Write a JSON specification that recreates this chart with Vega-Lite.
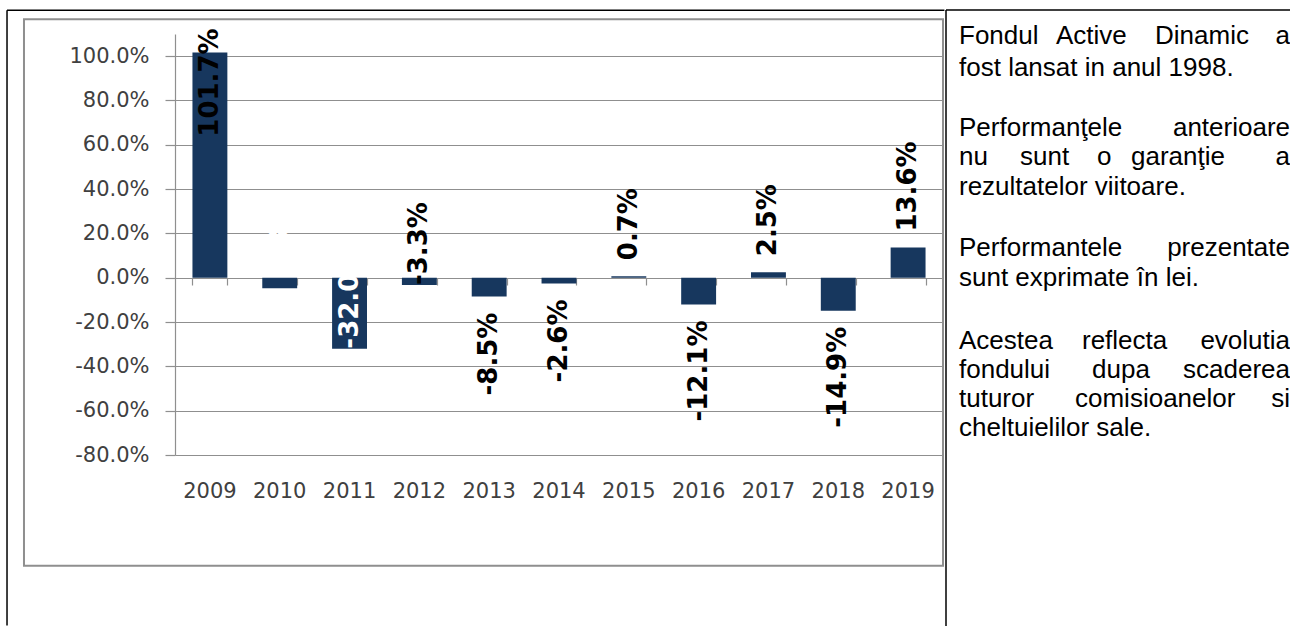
{
  "$schema": "https://vega.github.io/schema/vega-lite/v6.json",
  "background": "white",
  "padding": {"left": 6, "top": 9, "right": 0, "bottom": 0},
  "spacing": -1,
  "config": {
    "locale": {"number": {"decimal": ".", "thousands": ",", "grouping": [3], "currency": ["$", ""], "minus": "-"}},
    "view": {"stroke": null},
    "axis": {
      "labelFont": "DejaVu Sans",
      "labelFontSize": 21,
      "labelColor": "#404040",
      "domainColor": "#8f8f8f",
      "tickColor": "#8f8f8f",
      "gridColor": "#8f8f8f",
      "domainWidth": 1.2,
      "tickWidth": 1.2,
      "gridWidth": 1.2
    }
  },
  "datasets": {
    "perf": [
      {"year": "2009", "value": 1.017},
      {"year": "2010", "value": -0.048},
      {"year": "2011", "value": -0.32},
      {"year": "2012", "value": -0.033},
      {"year": "2013", "value": -0.085},
      {"year": "2014", "value": -0.026},
      {"year": "2015", "value": 0.007},
      {"year": "2016", "value": -0.121},
      {"year": "2017", "value": 0.025},
      {"year": "2018", "value": -0.149},
      {"year": "2019", "value": 0.136}
    ],
    "frame": [
      {"kind": "table", "x1": 2006.094, "x2": 2019.52, "y1": 1.2075, "y2": 1.2075},
      {"kind": "table", "x1": 2006.094, "x2": 2006.094, "y1": 1.2075, "y2": -1.57},
      {"kind": "area", "x1": 2006.337, "x2": 2019.5, "y1": 1.167, "y2": -1.3}
    ],
    "words": [
      {"t": "Fondul", "side": "left", "px": 13, "py": 10},
      {"t": "Active", "side": "left", "px": 110, "py": 10},
      {"t": "Dinamic", "side": "left", "px": 209, "py": 10},
      {"t": "a", "side": "right", "px": 344, "py": 10},
      {"t": "fost lansat in anul 1998.", "side": "left", "px": 13, "py": 42},
      {"t": "Performanţele", "side": "left", "px": 13, "py": 102},
      {"t": "anterioare", "side": "right", "px": 344, "py": 102},
      {"t": "nu", "side": "left", "px": 13, "py": 131},
      {"t": "sunt", "side": "left", "px": 74, "py": 131},
      {"t": "o", "side": "left", "px": 151, "py": 131},
      {"t": "garanţie", "side": "left", "px": 185, "py": 131},
      {"t": "a", "side": "right", "px": 344, "py": 131},
      {"t": "rezultatelor viitoare.", "side": "left", "px": 13, "py": 161},
      {"t": "Performantele", "side": "left", "px": 13, "py": 222},
      {"t": "prezentate", "side": "right", "px": 344, "py": 222},
      {"t": "sunt exprimate în lei.", "side": "left", "px": 13, "py": 252},
      {"t": "Acestea", "side": "left", "px": 13, "py": 315},
      {"t": "reflecta", "side": "left", "px": 136, "py": 315},
      {"t": "evolutia", "side": "right", "px": 344, "py": 315},
      {"t": "fondului", "side": "left", "px": 13, "py": 344},
      {"t": "dupa", "side": "left", "px": 146, "py": 344},
      {"t": "scaderea", "side": "right", "px": 344, "py": 344},
      {"t": "tuturor", "side": "left", "px": 13, "py": 373},
      {"t": "comisioanelor", "side": "left", "px": 129, "py": 373},
      {"t": "si", "side": "right", "px": 344, "py": 373},
      {"t": "cheltuielilor sale.", "side": "left", "px": 13, "py": 402}
    ]
  },
  "hconcat": [
    {
      "width": 768,
      "height": 421,
      "layer": [
        {
          "data": {"name": "perf"},
          "layer": [
            {
              "mark": {"type": "bar", "color": "#17375e"},
              "encoding": {
                "x": {
                  "field": "year", "type": "ordinal",
                  "scale": {"domain": ["2009","2010","2011","2012","2013","2014","2015","2016","2017","2018","2019"], "paddingInner": 0.5, "paddingOuter": 0.25},
                  "axis": {"orient": "bottom", "title": null, "domain": false, "ticks": false, "tickSize": 0, "labelPadding": 25, "labelAngle": 0, "grid": false}
                },
                "y": {
                  "field": "value", "type": "quantitative",
                  "scale": {"domain": [-0.8, 1.1], "nice": false},
                  "axis": {"title": null, "values": [-0.8, -0.6, -0.4, -0.2, 0, 0.2, 0.4, 0.6, 0.8, 1.0], "format": ".1%", "tickSize": 10, "labelPadding": 16, "grid": true}
                }
              }
            },
            {
              "transform": [{"filter": "datum.year == '2015' || datum.year == '2017' || datum.year == '2019'"}],
              "mark": {"type": "text", "angle": 270, "align": "left", "baseline": "middle", "dx": 16, "font": "DejaVu Sans", "fontWeight": "bold", "fontSize": 26, "color": "#000000"},
              "encoding": {
                "x": {"field": "year", "type": "ordinal", "axis": {"orient": "bottom", "title": null, "labels": false, "domain": true, "ticks": true, "tickBand": "extent", "tickSize": 7, "offset": -177, "grid": false}},
                "y": {"field": "value", "type": "quantitative"},
                "text": {"field": "value", "type": "quantitative", "format": ".1%"}
              }
            },
            {
              "transform": [{"filter": "datum.year == '2013' || datum.year == '2014' || datum.year == '2016' || datum.year == '2018'"}],
              "mark": {"type": "text", "angle": 270, "align": "right", "baseline": "middle", "dx": -16, "font": "DejaVu Sans", "fontWeight": "bold", "fontSize": 26, "color": "#000000"},
              "encoding": {
                "x": {"field": "year", "type": "ordinal", "axis": null},
                "y": {"field": "value", "type": "quantitative"},
                "text": {"field": "value", "type": "quantitative", "format": ".1%"}
              }
            },
            {
              "transform": [{"filter": "datum.year == '2009'"}],
              "mark": {"type": "text", "angle": 270, "align": "right", "baseline": "middle", "dx": 24, "font": "DejaVu Sans", "fontWeight": "bold", "fontSize": 26, "color": "#000000"},
              "encoding": {
                "x": {"field": "year", "type": "ordinal", "axis": null},
                "y": {"field": "value", "type": "quantitative"},
                "text": {"field": "value", "type": "quantitative", "format": ".1%"}
              }
            },
            {
              "transform": [{"filter": "datum.year == '2010'"}],
              "mark": {"type": "text", "angle": 270, "align": "left", "baseline": "middle", "dx": 12, "font": "DejaVu Sans", "fontWeight": "bold", "fontSize": 26, "color": "#ffffff"},
              "encoding": {
                "x": {"field": "year", "type": "ordinal", "axis": null},
                "y": {"field": "value", "type": "quantitative"},
                "text": {"field": "value", "type": "quantitative", "format": ".1%"}
              }
            },
            {
              "transform": [{"filter": "datum.year == '2011' || datum.year == '2012'"}],
              "mark": {"type": "text", "angle": 270, "align": "left", "baseline": "middle", "dx": 0, "font": "DejaVu Sans", "fontWeight": "bold", "fontSize": 26},
              "encoding": {
                "x": {"field": "year", "type": "ordinal", "axis": null},
                "y": {"field": "value", "type": "quantitative"},
                "text": {"field": "value", "type": "quantitative", "format": ".1%"},
                "color": {"condition": {"test": "datum.year == '2012'", "value": "#000000"}, "value": "#ffffff"}
              }
            }
          ],
          "resolve": {"axis": {"x": "independent"}}
        },
        {
          "data": {"name": "frame"},
          "layer": [
            {
              "transform": [{"filter": "datum.kind == 'table'"}],
              "mark": {"type": "rule", "color": "#000000", "strokeWidth": 1.5},
              "encoding": {
                "x": {"field": "x1", "type": "quantitative", "scale": {"domain": [2008.5, 2019.5], "nice": false, "zero": false}, "axis": null},
                "x2": {"field": "x2"},
                "y": {"field": "y1", "type": "quantitative", "title": null},
                "y2": {"field": "y2"}
              }
            },
            {
              "transform": [{"filter": "datum.kind == 'area'"}],
              "mark": {"type": "rect", "fillOpacity": 0, "stroke": "#8f8f8f", "strokeWidth": 2},
              "encoding": {
                "x": {"field": "x1", "type": "quantitative", "axis": null},
                "x2": {"field": "x2"},
                "y": {"field": "y1", "type": "quantitative", "title": null},
                "y2": {"field": "y2"}
              }
            }
          ]
        }
      ],
      "resolve": {"scale": {"x": "independent"}}
    },
    {
      "width": 345,
      "height": 592,
      "layer": [
        {
          "data": {"name": "words"},
          "transform": [{"filter": "datum.side == 'left'"}],
          "mark": {"type": "text", "align": "left", "baseline": "alphabetic", "font": "Liberation Sans", "fontSize": 26, "color": "#000000"},
          "encoding": {
            "x": {"field": "px", "type": "quantitative", "scale": {"domain": [0, 345], "nice": false, "zero": false}, "axis": null},
            "y": {"field": "py", "type": "quantitative", "scale": {"domain": [0, 592], "reverse": true, "nice": false, "zero": false}, "axis": null},
            "text": {"field": "t"}
          }
        },
        {
          "data": {"name": "words"},
          "transform": [{"filter": "datum.side == 'right'"}],
          "mark": {"type": "text", "align": "right", "baseline": "alphabetic", "font": "Liberation Sans", "fontSize": 26, "color": "#000000"},
          "encoding": {
            "x": {"field": "px", "type": "quantitative", "axis": null},
            "y": {"field": "py", "type": "quantitative", "axis": null},
            "text": {"field": "t"}
          }
        },
        {
          "data": {"values": [{}]},
          "mark": {"type": "rule", "color": "#000000", "strokeWidth": 1.5},
          "encoding": {"x": {"datum": 0, "type": "quantitative"}, "y": {"datum": -24, "type": "quantitative"}, "y2": {"datum": 592}}
        },
        {
          "data": {"values": [{}]},
          "mark": {"type": "rule", "color": "#000000", "strokeWidth": 1.5},
          "encoding": {"y": {"datum": -24, "type": "quantitative"}}
        }
      ]
    }
  ]
}
